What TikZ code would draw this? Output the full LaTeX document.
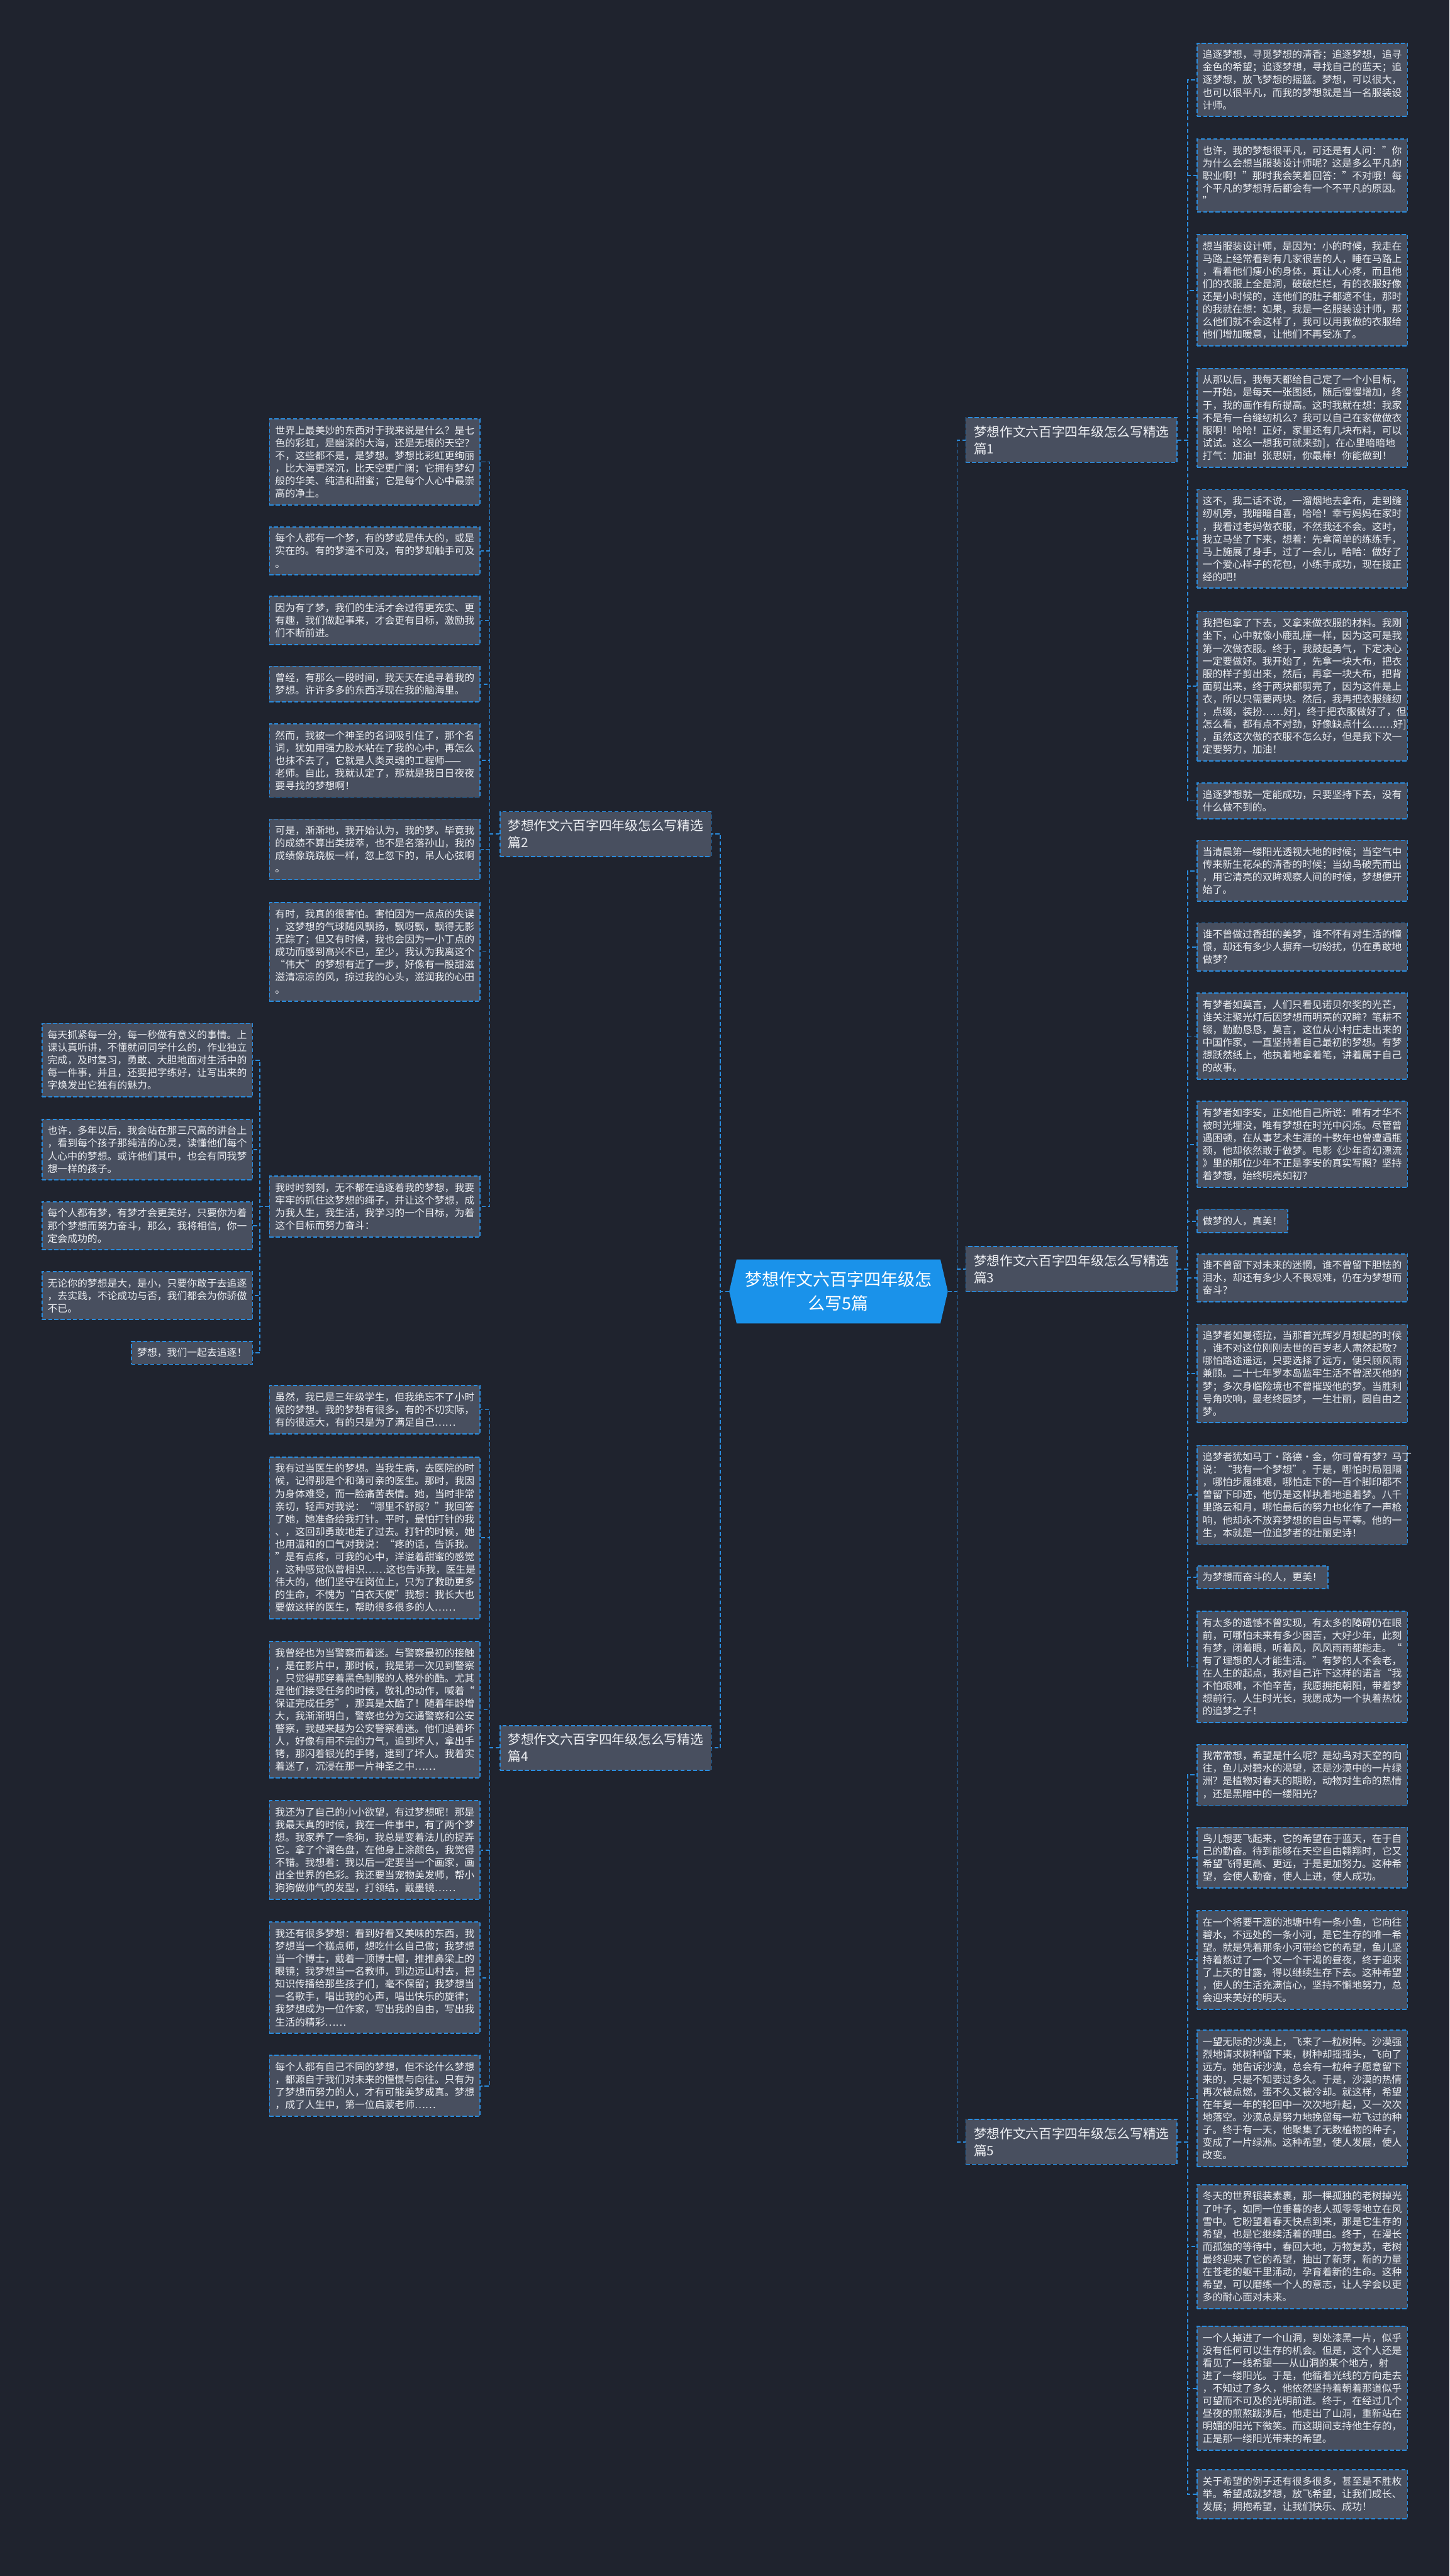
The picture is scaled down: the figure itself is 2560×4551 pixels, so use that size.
\documentclass[tikz,border=0pt]{standalone}
\usepackage{fontspec}
\setmainfont{Noto Sans CJK SC}
\usetikzlibrary{shapes.symbols}

\definecolor{bgdark}{RGB}{31,35,46}
\definecolor{boxgray}{RGB}{72,79,95}
\definecolor{linkblue}{RGB}{42,140,222}
\definecolor{rootblue}{RGB}{26,146,234}
\definecolor{txtwhite}{RGB}{236,238,242}

\tikzset{
  base/.style={draw=linkblue, line width=1pt, dash pattern=on 3.5pt off 2pt,
    fill=boxgray, text=txtwhite, inner xsep=5pt, inner ysep=6pt, align=left,
    font=\fontsize{8.8}{11.15}\selectfont},
  leaf/.style={base, text width=176pt},
  branch/.style={base, text width=172.5pt, inner xsep=7pt, inner ysep=7pt,
    font=\fontsize{11.5}{15}\selectfont},
  rootbox/.style={signal, signal to=west and east, signal pointer angle=154,
    fill=rootblue, text=white, align=center, text width=166pt,
    inner xsep=7pt, minimum height=56.5pt, font=\fontsize{15}{21}\selectfont},
  link/.style={draw=linkblue, line width=1pt, dash pattern=on 3.5pt off 2pt}
}

\begin{document}
\begin{tikzpicture}[x=0.5pt,y=-0.5pt]

\useasboundingbox (0,0) rectangle (2560,4551);
\fill[bgdark] (0,0) rectangle (2560,4551);

\node[rootbox] (root) at (1481,2281.5) {梦想作文六百字四年级怎\\么写5篇};

\node[branch, anchor=west] (b1) at (1705,777.5) {梦想作文六百字四年级怎么写精选\\篇1};
\node[branch, anchor=east] (b2) at (1257,1473.5) {梦想作文六百字四年级怎么写精选\\篇2};
\node[branch, anchor=west] (b3) at (1705,2242) {梦想作文六百字四年级怎么写精选\\篇3};
\node[branch, anchor=east] (b4) at (1257,3088) {梦想作文六百字四年级怎么写精选\\篇4};
\node[branch, anchor=west] (b5) at (1705,3784) {梦想作文六百字四年级怎么写精选\\篇5};

% right column
\node[leaf, anchor=west] (r1) at (2113,141) {追逐梦想，寻觅梦想的清香；追逐梦想，追寻\\金色的希望；追逐梦想，寻找自己的蓝天；追\\逐梦想，放飞梦想的摇篮。梦想，可以很大，\\也可以很平凡，而我的梦想就是当一名服装设\\计师。};
\node[leaf, anchor=west] (r2) at (2113,310) {也许，我的梦想很平凡，可还是有人问：”你\\为什么会想当服装设计师呢？这是多么平凡的\\职业啊！”那时我会笑着回答：”不对哦！每\\个平凡的梦想背后都会有一个不平凡的原因。\\”};
\node[leaf, anchor=west] (r3) at (2113,513) {想当服装设计师，是因为：小的时候，我走在\\马路上经常看到有几家很苦的人，睡在马路上\\，看着他们瘦小的身体，真让人心疼，而且他\\们的衣服上全是洞，破破烂烂，有的衣服好像\\还是小时候的，连他们的肚子都遮不住，那时\\的我就在想：如果，我是一名服装设计师，那\\么他们就不会这样了，我可以用我做的衣服给\\他们增加暖意，让他们不再受冻了。};
\node[leaf, anchor=west] (r4) at (2113,738) {从那以后，我每天都给自己定了一个小目标，\\一开始，是每天一张图纸，随后慢慢增加，终\\于，我的画作有所提高。这时我就在想：我家\\不是有一台缝纫机么？我可以自己在家做做衣\\服啊！哈哈！正好，家里还有几块布料，可以\\试试。这么一想我可就来劲]，在心里暗暗地\\打气：加油！张思妍，你最棒！你能做到！};
\node[leaf, anchor=west] (r5) at (2113,952) {这不，我二话不说，一溜烟地去拿布，走到缝\\纫机旁，我暗暗自喜，哈哈！幸亏妈妈在家时\\，我看过老妈做衣服，不然我还不会。这时，\\我立马坐了下来，想着：先拿简单的练练手，\\马上施展了身手，过了一会儿，哈哈：做好了\\一个爱心样子的花包，小练手成功，现在接正\\经的吧！};
\node[leaf, anchor=west] (r6) at (2113,1212.5) {我把包拿了下去，又拿来做衣服的材料。我刚\\坐下，心中就像小鹿乱撞一样，因为这可是我\\第一次做衣服。终于，我鼓起勇气，下定决心\\一定要做好。我开始了，先拿一块大布，把衣\\服的样子剪出来，然后，再拿一块大布，把背\\面剪出来，终于两块都剪完了，因为这件是上\\衣，所以只需要两块。然后，我再把衣服缝纫\\，点缀，装扮……好]，终于把衣服做好了，但\\怎么看，都有点不对劲，好像缺点什么……好]\\，虽然这次做的衣服不怎么好，但是我下次一\\定要努力，加油！};
\node[leaf, anchor=west] (r7) at (2113,1415) {追逐梦想就一定能成功，只要坚持下去，没有\\什么做不到的。};
\node[leaf, anchor=west] (r8) at (2113,1538.5) {当清晨第一缕阳光透视大地的时候；当空气中\\传来新生花朵的清香的时候；当幼鸟破壳而出\\，用它清亮的双眸观察人间的时候，梦想便开\\始了。};
\node[leaf, anchor=west] (r9) at (2113,1673) {谁不曾做过香甜的美梦，谁不怀有对生活的憧\\憬，却还有多少人摒弃一切纷扰，仍在勇敢地\\做梦？};
\node[leaf, anchor=west] (r10) at (2113,1830.5) {有梦者如莫言，人们只看见诺贝尔奖的光芒，\\谁关注聚光灯后因梦想而明亮的双眸？笔耕不\\辍，勤勤恳恳，莫言，这位从小村庄走出来的\\中国作家，一直坚持着自己最初的梦想。有梦\\想跃然纸上，他执着地拿着笔，讲着属于自己\\的故事。};
\node[leaf, anchor=west] (r11) at (2113,2022) {有梦者如李安，正如他自己所说：唯有才华不\\被时光埋没，唯有梦想在时光中闪烁。尽管曾\\遇困顿，在从事艺术生涯的十数年也曾遭遇瓶\\颈，他却依然敢于做梦。电影《少年奇幻漂流\\》里的那位少年不正是李安的真实写照？坚持\\着梦想，始终明亮如初？};
\node[base, anchor=west] (r12) at (2113,2157.5) {做梦的人，真美！};
\node[leaf, anchor=west] (r13) at (2113,2257.5) {谁不曾留下对未来的迷惘，谁不曾留下胆怯的\\泪水，却还有多少人不畏艰难，仍在为梦想而\\奋斗？};
\node[leaf, anchor=west] (r14) at (2113,2426.5) {追梦者如曼德拉，当那首光辉岁月想起的时候\\，谁不对这位刚刚去世的百岁老人肃然起敬？\\哪怕路途遥远，只要选择了远方，便只顾风雨\\兼顾。二十七年罗本岛监牢生活不曾泯灭他的\\梦；多次身临险境也不曾摧毁他的梦。当胜利\\号角吹响，曼老终圆梦，一生壮丽，圆自由之\\梦。};
\node[leaf, anchor=west] (r15) at (2113,2641) {追梦者犹如马丁·路德·金，你可曾有梦？马丁\\说：“我有一个梦想”。于是，哪怕时局阻隔\\，哪怕步履维艰，哪怕走下的一百个脚印都不\\曾留下印迹，他仍是这样执着地追着梦。八千\\里路云和月，哪怕最后的努力也化作了一声枪\\响，他却永不放弃梦想的自由与平等。他的一\\生，本就是一位追梦者的壮丽史诗！};
\node[base, anchor=west] (r16) at (2113,2786.5) {为梦想而奋斗的人，更美！};
\node[leaf, anchor=west] (r17) at (2113,2945) {有太多的遗憾不曾实现，有太多的障碍仍在眼\\前，可哪怕未来有多少困苦，大好少年，此刻\\有梦，闭着眼，听着风，风风雨雨都能走。“\\有了理想的人才能生活。”有梦的人不会老，\\在人生的起点，我对自己许下这样的诺言“我\\不怕艰难，不怕辛苦，我愿拥抱朝阳，带着梦\\想前行。人生时光长，我愿成为一个执着热忱\\的追梦之子！};
\node[leaf, anchor=west] (r18) at (2113,3135.5) {我常常想，希望是什么呢？是幼鸟对天空的向\\往，鱼儿对碧水的渴望，还是沙漠中的一片绿\\洲？是植物对春天的期盼，动物对生命的热情\\，还是黑暗中的一缕阳光？};
\node[leaf, anchor=west] (r19) at (2113,3282) {鸟儿想要飞起来，它的希望在于蓝天，在于自\\己的勤奋。待到能够在天空自由翱翔时，它又\\希望飞得更高、更远，于是更加努力。这种希\\望，会使人勤奋，使人上进，使人成功。};
\node[leaf, anchor=west] (r20) at (2113,3462.5) {在一个将要干涸的池塘中有一条小鱼，它向往\\碧水，不远处的一条小河，是它生存的唯一希\\望。就是凭着那条小河带给它的希望，鱼儿坚\\持着熬过了一个又一个干渴的昼夜，终于迎来\\了上天的甘露，得以继续生存下去。这种希望\\，使人的生活充满信心，坚持不懈地努力，总\\会迎来美好的明天。};
\node[leaf, anchor=west] (r21) at (2113,3707) {一望无际的沙漠上，飞来了一粒树种。沙漠强\\烈地请求树种留下来，树种却摇摇头，飞向了\\远方。她告诉沙漠，总会有一粒种子愿意留下\\来的，只是不知要过多久。于是，沙漠的热情\\再次被点燃，蛋不久又被冷却。就这样，希望\\在年复一年的轮回中一次次地升起，又一次次\\地落空。沙漠总是努力地挽留每一粒飞过的种\\子。终于有一天，他聚集了无数植物的种子，\\变成了一片绿洲。这种希望，使人发展，使人\\改变。};
\node[leaf, anchor=west] (r22) at (2113,3969) {冬天的世界银装素裹，那一棵孤独的老树掉光\\了叶子，如同一位垂暮的老人孤零零地立在风\\雪中。它盼望着春天快点到来，那是它生存的\\希望，也是它继续活着的理由。终于，在漫长\\而孤独的等待中，春回大地，万物复苏，老树\\最终迎来了它的希望，抽出了新芽，新的力量\\在苍老的躯干里涌动，孕育着新的生命。这种\\希望，可以磨练一个人的意志，让人学会以更\\多的耐心面对未来。};
\node[leaf, anchor=west] (r23) at (2113,4219.5) {一个人掉进了一个山洞，到处漆黑一片，似乎\\没有任何可以生存的机会。但是，这个人还是\\看见了一线希望——从山洞的某个地方，射\\进了一缕阳光。于是，他循着光线的方向走去\\，不知过了多久，他依然坚持着朝着那道似乎\\可望而不可及的光明前进。终于，在经过几个\\昼夜的煎熬跋涉后，他走出了山洞，重新站在\\明媚的阳光下微笑。而这期间支持他生存的，\\正是那一缕阳光带来的希望。};
\node[leaf, anchor=west] (r24) at (2113,4406.5) {关于希望的例子还有很多很多，甚至是不胜枚\\举。希望成就梦想，放飞希望，让我们成长、\\发展；拥抱希望，让我们快乐、成功！};

% left column
\node[leaf, anchor=east] (l1) at (849,816) {世界上最美妙的东西对于我来说是什么？是七\\色的彩虹，是幽深的大海，还是无垠的天空？\\不，这些都不是，是梦想。梦想比彩虹更绚丽\\，比大海更深沉，比天空更广阔；它拥有梦幻\\般的华美、纯洁和甜蜜；它是每个人心中最崇\\高的净土。};
\node[leaf, anchor=east] (l2) at (849,973) {每个人都有一个梦，有的梦或是伟大的，或是\\实在的。有的梦遥不可及，有的梦却触手可及\\。};
\node[leaf, anchor=east] (l3) at (849,1096) {因为有了梦，我们的生活才会过得更充实、更\\有趣，我们做起事来，才会更有目标，激励我\\们不断前进。};
\node[leaf, anchor=east] (l4) at (849,1208.5) {曾经，有那么一段时间，我天天在追寻着我的\\梦想。许许多多的东西浮现在我的脑海里。};
\node[leaf, anchor=east] (l5) at (849,1343.5) {然而，我被一个神圣的名词吸引住了，那个名\\词，犹如用强力胶水粘在了我的心中，再怎么\\也抹不去了，它就是人类灵魂的工程师——\\老师。自此，我就认定了，那就是我日日夜夜\\要寻找的梦想啊！};
\node[leaf, anchor=east] (l6) at (849,1500.5) {可是，渐渐地，我开始认为，我的梦。毕竟我\\的成绩不算出类拔萃，也不是名落孙山，我的\\成绩像跷跷板一样，忽上忽下的，吊人心弦啊\\。};
\node[leaf, anchor=east] (l7) at (849,1681.5) {有时，我真的很害怕。害怕因为一点点的失误\\，这梦想的气球随风飘扬，飘呀飘，飘得无影\\无踪了；但又有时候，我也会因为一小丁点的\\成功而感到高兴不已，至少，我认为我离这个\\“伟大”的梦想有近了一步，好像有一股甜滋\\滋清凉凉的风，掠过我的心头，滋润我的心田\\。};
\node[leaf, anchor=east] (l8) at (849,2131.5) {我时时刻刻，无不都在追逐着我的梦想，我要\\牢牢的抓住这梦想的绳子，并让这个梦想，成\\为我人生，我生活，我学习的一个目标，为着\\这个目标而努力奋斗：};
\node[leaf, anchor=east] (l9) at (849,2490.5) {虽然，我已是三年级学生，但我绝忘不了小时\\候的梦想。我的梦想有很多，有的不切实际，\\有的很远大，有的只是为了满足自己……};
\node[leaf, anchor=east] (l10) at (849,2717) {我有过当医生的梦想。当我生病，去医院的时\\候，记得那是个和蔼可亲的医生。那时，我因\\为身体难受，而一脸痛苦表情。她，当时非常\\亲切，轻声对我说：“哪里不舒服？”我回答\\了她，她准备给我打针。平时，最怕打针的我\\、，这回却勇敢地走了过去。打针的时候，她\\也用温和的口气对我说：“疼的话，告诉我。\\”是有点疼，可我的心中，洋溢着甜蜜的感觉\\，这种感觉似曾相识……这也告诉我，医生是\\伟大的，他们坚守在岗位上，只为了救助更多\\的生命，不愧为“白衣天使”我想：我长大也\\要做这样的医生，帮助很多很多的人……};
\node[leaf, anchor=east] (l11) at (849,3020.5) {我曾经也为当警察而着迷。与警察最初的接触\\，是在影片中，那时候，我是第一次见到警察\\，只觉得那穿着黑色制服的人格外的酷。尤其\\是他们接受任务的时候，敬礼的动作，喊着“\\保证完成任务”，那真是太酷了！随着年龄增\\大，我渐渐明白，警察也分为交通警察和公安\\警察，我越来越为公安警察着迷。他们追着坏\\人，好像有用不完的力气，追到坏人，拿出手\\铐，那闪着银光的手铐，逮到了坏人。我着实\\着迷了，沉浸在那一片神圣之中……};
\node[leaf, anchor=east] (l12) at (849,3268.5) {我还为了自己的小小欲望，有过梦想呢！那是\\我最天真的时候，我在一件事中，有了两个梦\\想。我家养了一条狗，我总是变着法儿的捉弄\\它。拿了个调色盘，在他身上涂颜色，我觉得\\不错。我想着：我以后一定要当一个画家，画\\出全世界的色彩。我还要当宠物美发师，帮小\\狗狗做帅气的发型，打领结，戴墨镜……};
\node[leaf, anchor=east] (l13) at (849,3494) {我还有很多梦想：看到好看又美味的东西，我\\梦想当一个糕点师，想吃什么自己做；我梦想\\当一个博士，戴着一顶博士帽，推推鼻梁上的\\眼镜；我梦想当一名教师，到边远山村去，把\\知识传播给那些孩子们，毫不保留；我梦想当\\一名歌手，唱出我的心声，唱出快乐的旋律；\\我梦想成为一位作家，写出我的自由，写出我\\生活的精彩……};
\node[leaf, anchor=east] (l14) at (849,3685) {每个人都有自己不同的梦想，但不论什么梦想\\，都源自于我们对未来的憧憬与向往。只有为\\了梦想而努力的人，才有可能美梦成真。梦想\\，成了人生中，第一位启蒙老师……};

% far left
\node[leaf, anchor=east] (f1) at (447,1873) {每天抓紧每一分，每一秒做有意义的事情。上\\课认真听讲，不懂就问同学什么的，作业独立\\完成，及时复习，勇敢、大胆地面对生活中的\\每一件事，并且，还要把字练好，让写出来的\\字焕发出它独有的魅力。};
\node[leaf, anchor=east] (f2) at (447,2031) {也许，多年以后，我会站在那三尺高的讲台上\\，看到每个孩子那纯洁的心灵，读懂他们每个\\人心中的梦想。或许他们其中，也会有同我梦\\想一样的孩子。};
\node[leaf, anchor=east] (f3) at (447,2165.5) {每个人都有梦，有梦才会更美好，只要你为着\\那个梦想而努力奋斗，那么，我将相信，你一\\定会成功的。};
\node[leaf, anchor=east] (f4) at (447,2289) {无论你的梦想是大，是小，只要你敢于去追逐\\，去实践，不论成功与否，我们都会为你骄傲\\不已。};
\node[base, anchor=east] (f5) at (447,2390) {梦想，我们一起去追逐！};

\foreach \b in {b1,b3,b5} \draw[link] (root.east) -- ++(16,0) |- (\b.west);
\foreach \b in {b2,b4} \draw[link] (root.west) -- ++(-15,0) |- (\b.east);

\foreach \i in {1,...,7} \draw[link] (b1.east) -- ++(18,0) |- (r\i.west);
\foreach \i in {8,...,17} \draw[link] (b3.east) -- ++(18,0) |- (r\i.west);
\foreach \i in {18,...,24} \draw[link] (b5.east) -- ++(18,0) |- (r\i.west);
\foreach \i in {1,...,8} \draw[link] (b2.west) -- ++(-17,0) |- (l\i.east);
\foreach \i in {9,...,14} \draw[link] (b4.west) -- ++(-17,0) |- (l\i.east);
\foreach \i in {1,...,5} \draw[link] (l8.west) -- ++(-16,0) |- (f\i.east);

\end{tikzpicture}
\end{document}
